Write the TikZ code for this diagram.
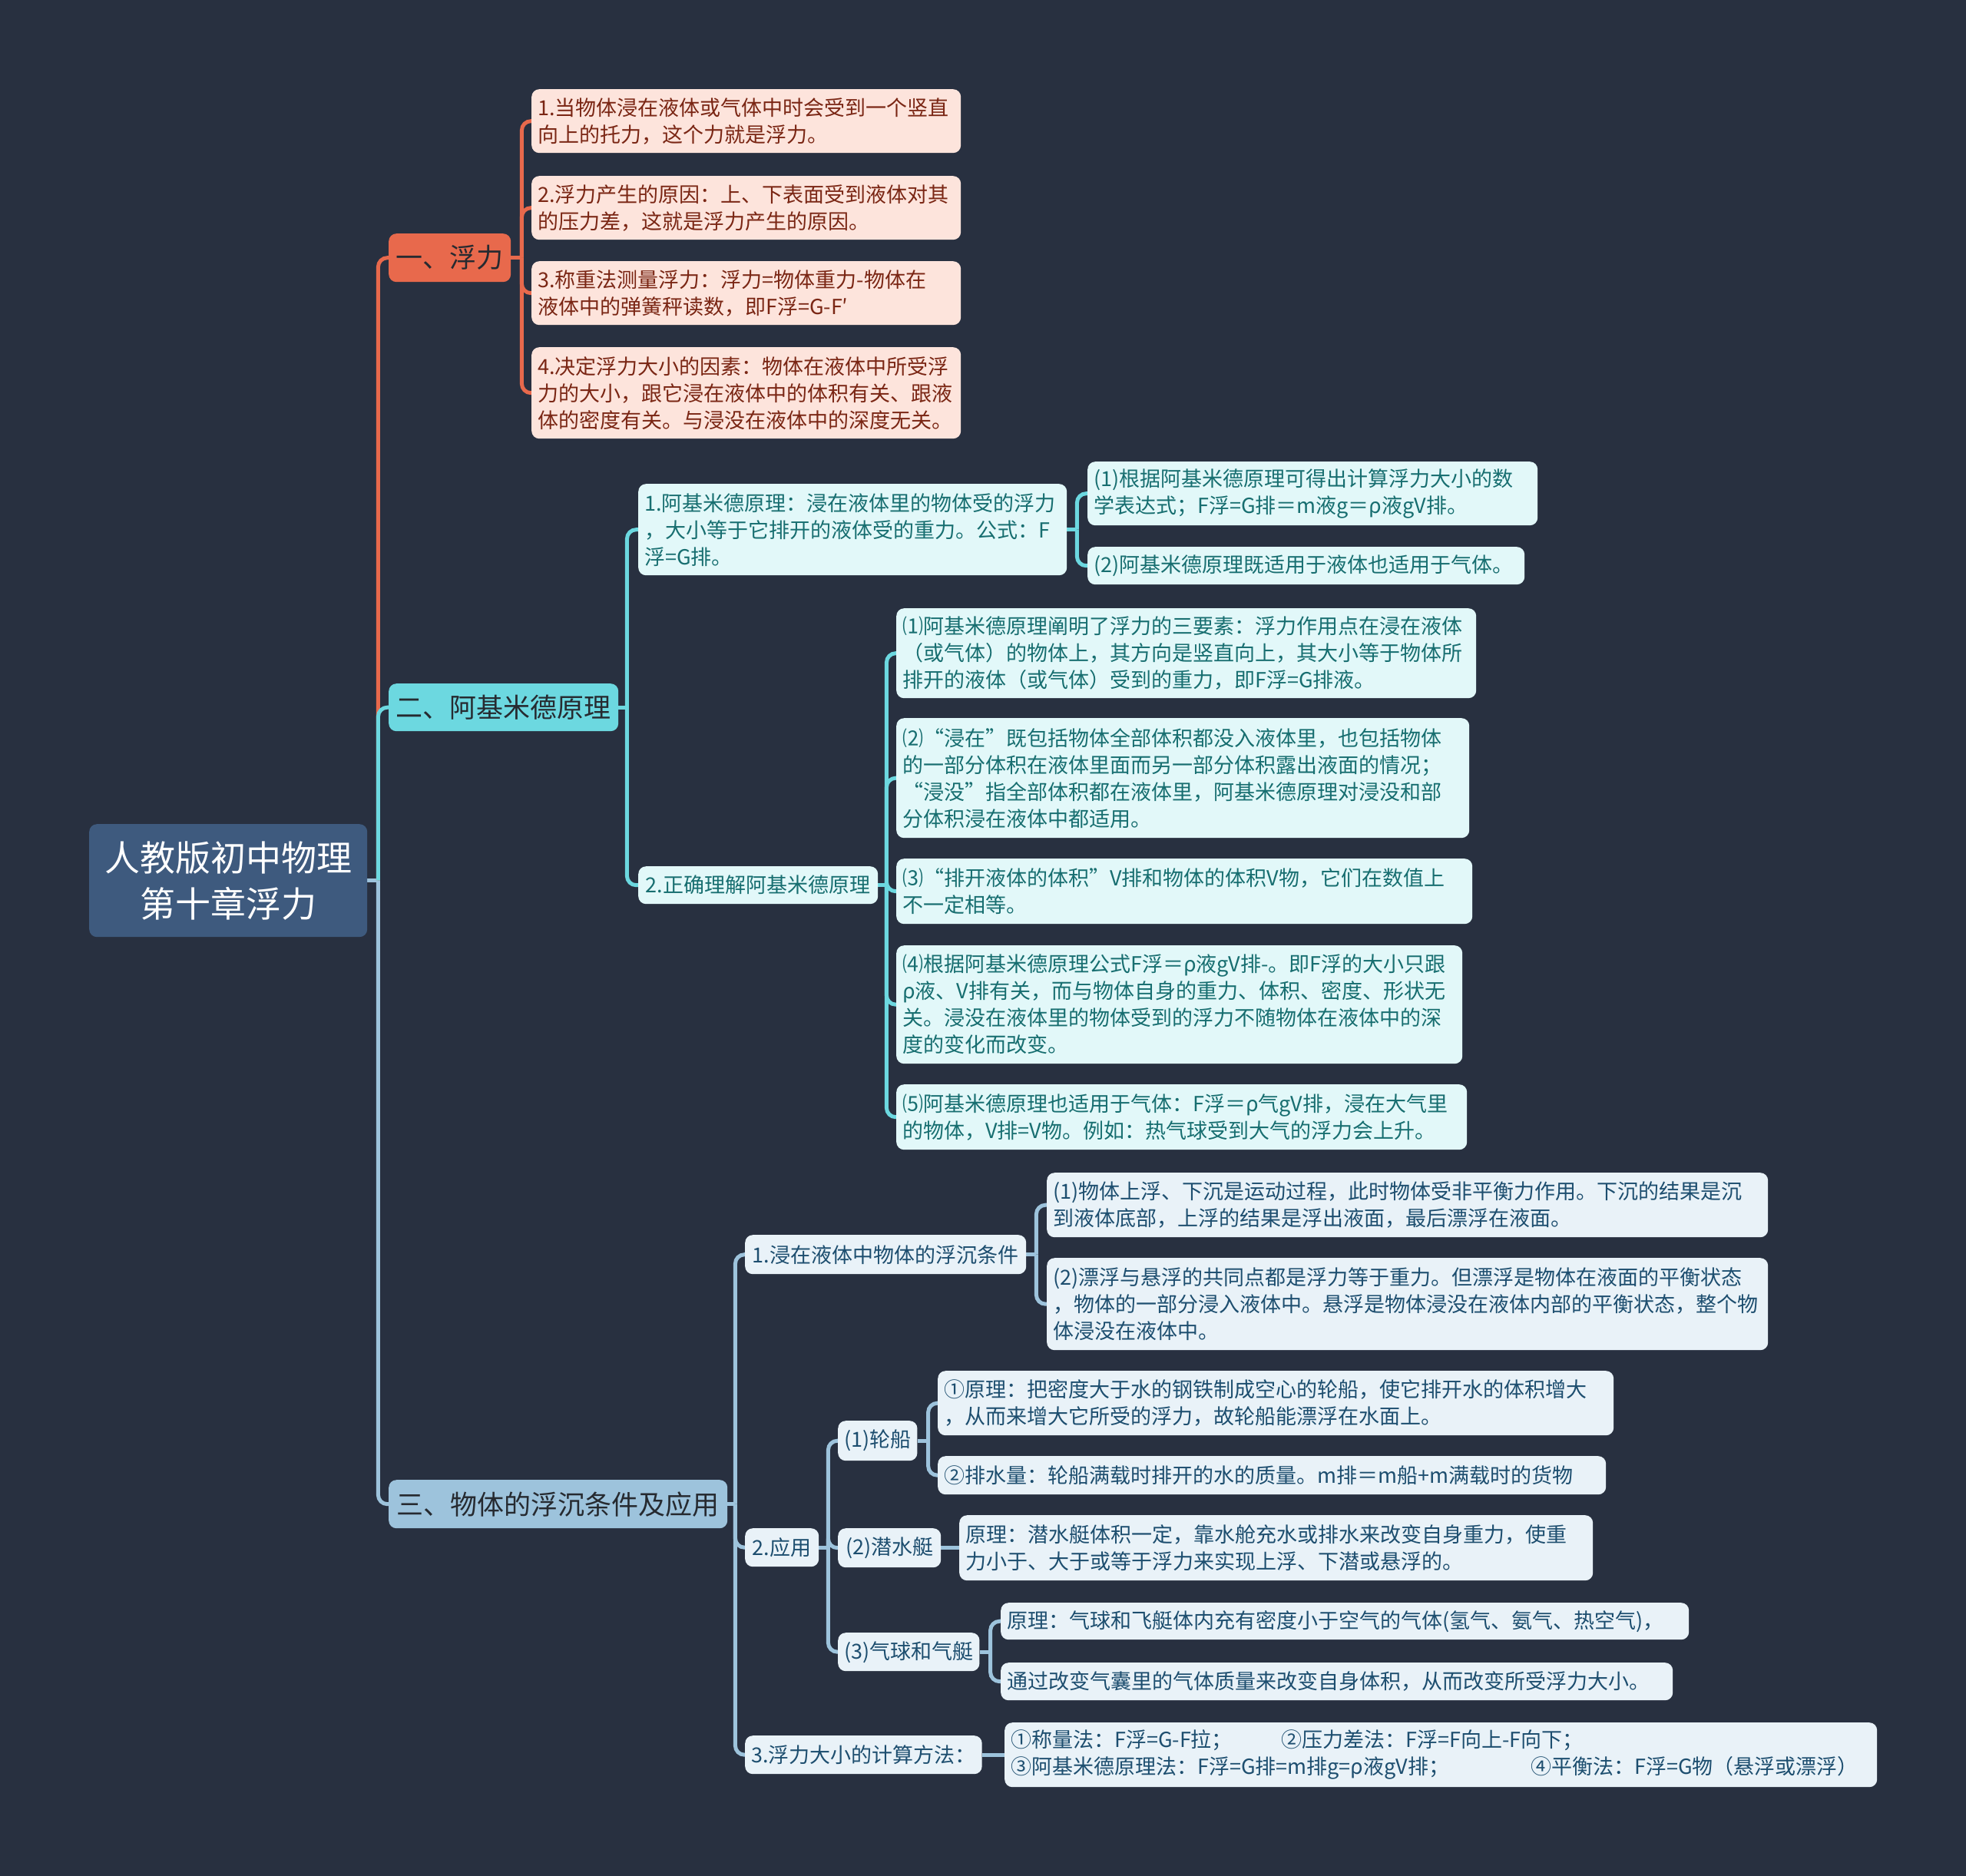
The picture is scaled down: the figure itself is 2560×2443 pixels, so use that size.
\documentclass[tikz,border=0pt]{standalone}
\usepackage{fontspec}
\setmainfont{Noto Sans CJK SC}
\usetikzlibrary{backgrounds}
\definecolor{bgc}{HTML}{283040}
\definecolor{orn}{HTML}{E8694C}
\definecolor{cyn}{HTML}{6CD8E0}
\definecolor{lbl}{HTML}{9DC3DC}
\definecolor{rootc}{HTML}{3E5A7E}
\definecolor{pinkf}{HTML}{FDE4DC}
\definecolor{pinkt}{HTML}{7A2614}
\definecolor{cyanf}{HTML}{E2F8F9}
\definecolor{cyant}{HTML}{176E70}
\definecolor{bluef}{HTML}{E9F2F8}
\definecolor{bluet}{HTML}{1D4E6F}
\definecolor{darkt}{HTML}{262A30}
\newcommand\leaffont{\fontsize{27}{35}\selectfont}
\newcommand\secfont{\fontsize{35}{42}\selectfont}
\newcommand\rootfont{\fontsize{46}{60}\selectfont}
\tikzset{
  bx/.style={rounded corners=10pt, anchor=north west, inner xsep=8pt, inner ysep=0pt},
  rootbox/.style={bx, fill=rootc, text=white, font=\rootfont, align=center},
  secO/.style={bx, fill=orn, text=darkt, font=\secfont, align=center},
  secC/.style={bx, fill=cyn, text=darkt, font=\secfont, align=center},
  secB/.style={bx, fill=lbl, text=darkt, font=\secfont, align=center},
  pk/.style={bx, fill=pinkf, text=pinkt, font=\leaffont, align=left},
  cy/.style={bx, fill=cyanf, text=cyant, font=\leaffont, align=left},
  cyc/.style={bx, fill=cyanf, text=cyant, font=\leaffont, align=center},
  bl/.style={bx, fill=bluef, text=bluet, font=\leaffont, align=left},
  blc/.style={bx, fill=bluef, text=bluet, font=\leaffont, align=center},
  cO/.style={draw=orn, line width=5pt, rounded corners=12pt},
  cC/.style={draw=cyn, line width=5pt, rounded corners=12pt},
  cB/.style={draw=lbl, line width=5pt, rounded corners=12pt},
}
\begin{document}
\begin{tikzpicture}[x=1pt,y=-1pt]
\useasboundingbox (0,0) rectangle (2560,2443);
% root and sections
\node[rootbox, minimum width=362, minimum height=147] (root) at (116,1073) {人教版初中物理\\第十章浮力};
\node[secO, minimum width=159, minimum height=63] (n1) at (506,304) {一、浮力};
\node[secC, minimum width=299, minimum height=62] (n2) at (506,890) {二、阿基米德原理};
\node[secB, minimum width=441, minimum height=63] (n3) at (506,1927) {三、物体的浮沉条件及应用};
% section 1 leaves
\node[pk, minimum width=559, text width=543, minimum height=83] (f1) at (692,116) {1.当物体浸在液体或气体中时会受到一个竖直\\向上的托力，这个力就是浮力。};
\node[pk, minimum width=559, text width=543, minimum height=83] (f2) at (692,229) {2.浮力产生的原因：上、下表面受到液体对其\\的压力差，这就是浮力产生的原因。};
\node[pk, minimum width=559, text width=543, minimum height=83] (f3) at (692,340) {3.称重法测量浮力：浮力=物体重力-物体在\\液体中的弹簧秤读数，即F浮=G-F′};
\node[pk, minimum width=559, text width=543, minimum height=119] (f4) at (692,452) {4.决定浮力大小的因素：物体在液体中所受浮\\力的大小，跟它浸在液体中的体积有关、跟液\\体的密度有关。与浸没在液体中的深度无关。};
% section 2
\node[cy, minimum width=558, text width=542, minimum height=119] (a1) at (831,630) {1.阿基米德原理：浸在液体里的物体受的浮力\\，大小等于它排开的液体受的重力。公式：F\\浮=G排。};
\node[cy, minimum width=586, text width=570, minimum height=83] (a1a) at (1416,601) {(1)根据阿基米德原理可得出计算浮力大小的数\\学表达式；F浮=G排＝m液g＝ρ液gV排。};
\node[cy, minimum width=569, text width=553, minimum height=49] (a1b) at (1416,712) {(2)阿基米德原理既适用于液体也适用于气体。};
\node[cyc, minimum width=312, minimum height=49] (a2) at (831,1128) {2.正确理解阿基米德原理};
\node[cy, minimum width=755, text width=739, minimum height=117] (p1) at (1167,792) {⑴阿基米德原理阐明了浮力的三要素：浮力作用点在浸在液体\\（或气体）的物体上，其方向是竖直向上，其大小等于物体所\\排开的液体（或气体）受到的重力，即F浮=G排液。};
\node[cy, minimum width=746, text width=730, minimum height=156] (p2) at (1167,935) {⑵“浸在”既包括物体全部体积都没入液体里，也包括物体\\的一部分体积在液体里面而另一部分体积露出液面的情况；\\“浸没”指全部体积都在液体里，阿基米德原理对浸没和部\\分体积浸在液体中都适用。};
\node[cy, minimum width=750, text width=734, minimum height=85] (p3) at (1167,1118) {⑶“排开液体的体积”V排和物体的体积V物，它们在数值上\\不一定相等。};
\node[cy, minimum width=737, text width=721, minimum height=154] (p4) at (1167,1231) {⑷根据阿基米德原理公式F浮＝ρ液gV排-。即F浮的大小只跟\\ρ液、V排有关，而与物体自身的重力、体积、密度、形状无\\关。浸没在液体里的物体受到的浮力不随物体在液体中的深\\度的变化而改变。};
\node[cy, minimum width=743, text width=727, minimum height=85] (p5) at (1167,1412) {⑸阿基米德原理也适用于气体：F浮＝ρ气gV排，浸在大气里\\的物体，V排=V物。例如：热气球受到大气的浮力会上升。};
% section 3
\node[blc, minimum width=366, minimum height=51] (b1) at (970,1608) {1.浸在液体中物体的浮沉条件};
\node[bl, minimum width=939, text width=923, minimum height=84] (b1a) at (1363,1527) {(1)物体上浮、下沉是运动过程，此时物体受非平衡力作用。下沉的结果是沉\\到液体底部，上浮的结果是浮出液面，最后漂浮在液面。};
\node[bl, minimum width=939, text width=923, minimum height=120] (b1b) at (1363,1638) {(2)漂浮与悬浮的共同点都是浮力等于重力。但漂浮是物体在液面的平衡状态\\，物体的一部分浸入液体中。悬浮是物体浸没在液体内部的平衡状态，整个物\\体浸没在液体中。};
\node[blc, minimum width=96, minimum height=50] (b2) at (970,1990) {2.应用};
\node[blc, minimum width=102, minimum height=52] (c1) at (1091,1850) {(1)轮船};
\node[bl, minimum width=880, text width=864, minimum height=84] (s1) at (1221,1785) {①原理：把密度大于水的钢铁制成空心的轮船，使它排开水的体积增大\\，从而来增大它所受的浮力，故轮船能漂浮在水面上。};
\node[bl, minimum width=870, text width=854, minimum height=50] (s2) at (1221,1896) {②排水量：轮船满载时排开的水的质量。m排＝m船+m满载时的货物};
\node[blc, minimum width=134, minimum height=51] (c2) at (1091,1990) {(2)潜水艇};
\node[bl, minimum width=825, text width=809, minimum height=85] (s3) at (1249,1973) {原理：潜水艇体积一定，靠水舱充水或排水来改变自身重力，使重\\力小于、大于或等于浮力来实现上浮、下潜或悬浮的。};
\node[blc, minimum width=184, minimum height=50] (c3) at (1091,2126) {(3)气球和气艇};
\node[bl, minimum width=896, text width=880, minimum height=48] (s4) at (1303,2087) {原理：气球和飞艇体内充有密度小于空气的气体(氢气、氨气、热空气)，};
\node[bl, minimum width=875, text width=859, minimum height=49] (s5) at (1303,2165) {通过改变气囊里的气体质量来改变自身体积，从而改变所受浮力大小。};
\node[blc, minimum width=303, minimum height=50] (b3) at (970,2260) {3.浮力大小的计算方法：};
\node[bl, minimum width=1136, text width=1120, minimum height=84] (s6) at (1308,2243) {\makebox[352pt][l]{①称量法：F浮=G-F拉；}②压力差法：F浮=F向上-F向下；\\\makebox[677pt][l]{③阿基米德原理法：F浮=G排=m排g=ρ液gV排；}④平衡法：F浮=G物（悬浮或漂浮）};
% connectors
\begin{pgfonlayer}{background}
\fill[bgc] (0,0) rectangle (2560,2443);
\path (root.east) ++(14,0) coordinate (jr);
\path (n1.east) ++(14,0) coordinate (j1);
\path (n2.east) ++(11,0) coordinate (j2);
\path (n3.east) ++(10,0) coordinate (j3);
\path (a1.east) ++(13,0) coordinate (ja1);
\path (a2.east) ++(11,0) coordinate (ja2);
\path (b1.east) ++(13,0) coordinate (jb1);
\path (b2.east) ++(12,0) coordinate (jb2);
\path (c1.east) ++(14,0) coordinate (jc1);
\path (c3.east) ++(14,0) coordinate (jc3);
\draw[cB] (root.east) -- (jr);
\draw[cO] (jr) |- (n1.west);
\draw[cC] (jr) |- (n2.west);
\draw[cB] (jr) |- (n3.west);
\draw[cO] (n1.east) -- (j1);
\foreach \t in {f1,f2,f3,f4} \draw[cO] (j1) |- (\t.west);
\draw[cC] (n2.east) -- (j2);
\foreach \t in {a1,a2} \draw[cC] (j2) |- (\t.west);
\draw[cC] (a1.east) -- (ja1);
\foreach \t in {a1a,a1b} \draw[cC] (ja1) |- (\t.west);
\draw[cC] (a2.east) -- (ja2);
\foreach \t in {p1,p2,p3,p4,p5} \draw[cC] (ja2) |- (\t.west);
\draw[cB] (n3.east) -- (j3);
\foreach \t in {b1,b2,b3} \draw[cB] (j3) |- (\t.west);
\draw[cB] (b1.east) -- (jb1);
\foreach \t in {b1a,b1b} \draw[cB] (jb1) |- (\t.west);
\draw[cB] (b2.east) -- (jb2);
\foreach \t in {c1,c2,c3} \draw[cB] (jb2) |- (\t.west);
\draw[cB] (c1.east) -- (jc1);
\foreach \t in {s1,s2} \draw[cB] (jc1) |- (\t.west);
\draw[cB] (c2.east) -- (s3.west);
\draw[cB] (c3.east) -- (jc3);
\foreach \t in {s4,s5} \draw[cB] (jc3) |- (\t.west);
\draw[cB] (b3.east) -- (s6.west);
\end{pgfonlayer}
\end{tikzpicture}
\end{document}
